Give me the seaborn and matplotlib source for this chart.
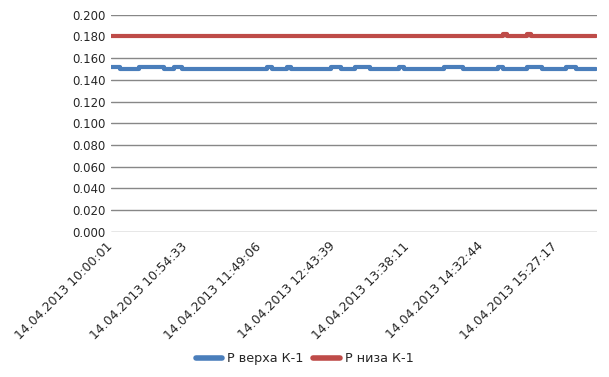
import numpy as np
import pandas as pd
import matplotlib.pyplot as plt
import seaborn as sns

# Step-wise readings: time of change (minutes after start) and the value from then on
start = pd.Timestamp('2013-04-14 10:00:01')
top_minutes = [0, 6.6, 20.6, 39.1, 46.4, 52.3, 115.0, 118.7, 129.7, 132.7, 162.1, 169.5,
               179.8, 190.9, 212.3, 215.9, 245.4, 259.4, 285.2, 288.9, 306.6, 317.6,
               335.3, 342.7, 357.4]
top_values = [0.1515, 0.1503, 0.1515, 0.1503, 0.1515, 0.1503, 0.1515, 0.1503, 0.1515,
              0.1503, 0.1515, 0.1503, 0.1515, 0.1503, 0.1515, 0.1503, 0.1515, 0.1503,
              0.1515, 0.1503, 0.1515, 0.1503, 0.1515, 0.1503, 0.1503]
bottom_minutes = [0, 289.0, 292.0, 306.6, 309.8, 357.4]
bottom_values = [0.1808, 0.1818, 0.1808, 0.1818, 0.1808, 0.1808]

tick_labels = ['14.04.2013 10:00:01', '14.04.2013 10:54:33', '14.04.2013 11:49:06',
               '14.04.2013 12:43:39', '14.04.2013 13:38:11', '14.04.2013 14:32:44',
               '14.04.2013 15:27:17']
series_names = ['Р верха К-1', 'Р низа К-1']
colors = ['#4a7ebb', '#be4b48']

top = pd.DataFrame({'time': start + pd.to_timedelta(top_minutes, unit='m'),
                    'value': top_values, 'series': series_names[0]})
bottom = pd.DataFrame({'time': start + pd.to_timedelta(bottom_minutes, unit='m'),
                       'value': bottom_values, 'series': series_names[1]})
df = pd.concat([top, bottom], ignore_index=True)

sns.set_style('white')
plt.rcParams['font.family'] = ['DejaVu Sans']

fig = plt.figure(figsize=(6.09, 3.77), dpi=100)
ax = fig.add_axes([0.182, 0.385, 0.798, 0.576])

sns.lineplot(data=df, x='time', y='value', hue='series', palette=colors,
             drawstyle='steps-post', linewidth=3, ax=ax, legend=False, zorder=3)

ax.set_ylim(0, 0.2)
ax.set_yticks(np.arange(0, 0.2001, 0.02))
ax.set_yticklabels([f'{v:.3f}' for v in np.arange(0, 0.2001, 0.02)], fontsize=8.5)
ax.yaxis.grid(True, color='#878787', linewidth=1)
ax.set_axisbelow(True)
ax.tick_params(axis='y', length=0, pad=4)

ax.set_xlim(start, start + pd.Timedelta(minutes=358))
ax.set_xticks(pd.to_datetime(tick_labels, format='%d.%m.%Y %H:%M:%S'))
ax.set_xticklabels(tick_labels, rotation=45, ha='right', va='center',
                   rotation_mode='anchor', fontsize=9)
ax.tick_params(axis='x', length=0, pad=9)

for s in ax.spines.values():
    s.set_visible(False)
ax.set_xlabel('')
ax.set_ylabel('')

handles = [plt.Line2D([], [], color=c, linewidth=4) for c in colors]
fig.legend(handles, series_names, loc='center', bbox_to_anchor=(0.5, 0.048),
           ncol=2, frameon=False, fontsize=9.2, handlelength=2.1, columnspacing=0.8,
           handletextpad=0.35)

fig.savefig('out.png', dpi=100)
